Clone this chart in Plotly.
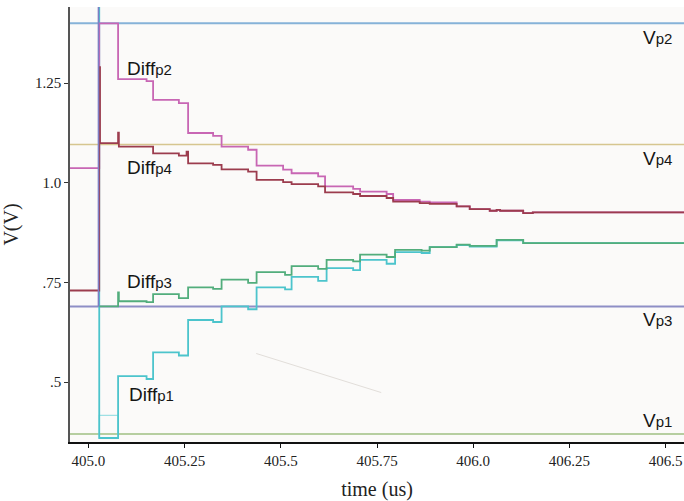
import plotly.graph_objects as go

# ---------------- data ----------------
t_switch = 405.028

# reference levels
vp_names = ["Vp2", "Vp4", "Vp3", "Vp1"]
vp_levels = [1.400, 1.096, 0.690, 0.370]

# Diff_p2 (pink)
p2_t = [404.95, 405.028, 405.077, 405.151, 405.168, 405.235, 405.259, 405.324, 405.346,
        405.415, 405.437, 405.506, 405.528, 405.597, 405.615, 405.688, 405.706, 405.775,
        405.792, 405.861, 405.887, 405.957, 405.991, 406.043, 406.061, 406.070, 406.130,
        406.155, 406.55]
p2_v = [1.037, 1.400, 1.260, 1.255, 1.208, 1.200, 1.125, 1.118, 1.091,
        1.083, 1.043, 1.033, 1.024, 1.016, 0.991, 0.985, 0.978, 0.972,
        0.957, 0.953, 0.951, 0.941, 0.934, 0.930, 0.932, 0.930, 0.924,
        0.926, 0.926]

# Diff_p4 (dark red)
p4_t = [404.95, 405.028, 405.030, 405.077, 405.079, 405.168, 405.235, 405.255, 405.259,
        405.324, 405.346, 405.415, 405.437, 405.506, 405.528, 405.597, 405.615, 405.688,
        405.706, 405.775, 405.792, 405.861, 405.887, 405.957, 405.991, 406.043, 406.061,
        406.070, 406.130, 406.155, 406.55]
p4_v = [0.730, 1.290, 1.0995, 1.126, 1.091, 1.074, 1.068, 1.078, 1.049,
        1.045, 1.034, 1.028, 1.0075, 1.002, 0.997, 0.991, 0.976, 0.972,
        0.967, 0.962, 0.953, 0.949, 0.947, 0.941, 0.934, 0.930, 0.932,
        0.930, 0.924, 0.926, 0.926]

# Diff_p3 (green)
p3_t = [405.028, 405.077, 405.079, 405.151, 405.168, 405.235, 405.259, 405.324, 405.346,
        405.415, 405.437, 405.511, 405.528, 405.597, 405.619, 405.688, 405.706, 405.775,
        405.797, 405.866, 405.887, 405.957, 405.991, 406.061, 406.130, 406.55]
p3_v = [0.690, 0.725, 0.703, 0.701, 0.721, 0.711, 0.738, 0.734, 0.757,
        0.749, 0.776, 0.769, 0.791, 0.784, 0.807, 0.803, 0.820, 0.814,
        0.832, 0.830, 0.839, 0.845, 0.842, 0.857, 0.849, 0.849]

# Diff_p1 (cyan)
p1_t = [405.028, 405.028, 405.077, 405.151, 405.168, 405.235, 405.259, 405.324, 405.346,
        405.415, 405.437, 405.511, 405.528, 405.597, 405.619, 405.688, 405.706, 405.775,
        405.797, 405.866, 405.887, 405.957, 405.991, 406.061, 406.130, 406.55]
p1_v = [1.46, 0.360, 0.515, 0.508, 0.575, 0.567, 0.656, 0.651, 0.690,
        0.683, 0.738, 0.733, 0.764, 0.754, 0.786, 0.781, 0.807, 0.797,
        0.826, 0.824, 0.839, 0.844, 0.840, 0.856, 0.849, 0.849]

# faint secondary cyan segment during switching
p1b_t = [405.028, 405.028, 405.077, 405.077]
p1b_v = [0.360, 0.417, 0.417, 0.370]

# switching edge (purple)
sw_v = [1.46, 0.690]

# faint diagonal artifact
art_t = [405.436, 405.761]
art_v = [0.572, 0.474]

x_ticks = [405.0, 405.25, 405.5, 405.75, 406.0, 406.25, 406.5]
x_ticktext = ["405.0", "405.25", "405.5", "405.75", "406.0", "406.25", "406.5"]
y_ticks = [0.5, 0.75, 1.0, 1.25]
y_ticktext = [".5", ".75", "1.0", "1.25"]

# ---------------- styles ----------------
vp_colors = ["#86b2d8", "#d6c690", "#8e8ec6", "#b6cea0"]
vp_widths = [2, 1.6, 2, 2]

fig = go.Figure()

x0, x1 = 404.952, 406.548
for name, lvl, col, w in zip(vp_names, vp_levels, vp_colors, vp_widths):
    fig.add_trace(go.Scatter(x=[x0, x1], y=[lvl, lvl], mode="lines",
                             line=dict(color=col, width=w), hoverinfo="skip"))

fig.add_trace(go.Scatter(x=art_t, y=art_v, mode="lines",
                         line=dict(color="#e2deda", width=1), hoverinfo="skip"))

fig.add_trace(go.Scatter(x=p1b_t, y=p1b_v, mode="lines",
                         line=dict(color="#9ee0e4", width=1.2), hoverinfo="skip"))
fig.add_trace(go.Scatter(x=p1_t, y=p1_v, mode="lines", line_shape="hv",
                         line=dict(color="#4cc4cc", width=1.8)))
fig.add_trace(go.Scatter(x=p3_t, y=p3_v, mode="lines", line_shape="hv",
                         line=dict(color="#52ad7c", width=1.8)))
fig.add_trace(go.Scatter(x=p2_t, y=p2_v, mode="lines", line_shape="hv",
                         line=dict(color="#c866b4", width=1.8)))
fig.add_trace(go.Scatter(x=p4_t, y=p4_v, mode="lines", line_shape="hv",
                         line=dict(color="#9c3c4e", width=1.8)))
fig.add_trace(go.Scatter(x=[t_switch - 0.002, t_switch - 0.002], y=sw_v, mode="lines",
                         line=dict(color="#7e7ec4", width=1.6), hoverinfo="skip"))

lab_font = dict(family="Liberation Sans, Arial, sans-serif", size=19, color="#151515")
SUB = "<span style='font-size:15px'>{}</span>"
labels = [
    (405.095, 1.288, "Diff" + SUB.format("p2")),
    (405.095, 1.038, "Diff" + SUB.format("p4")),
    (405.095, 0.752, "Diff" + SUB.format("p3")),
    (405.100, 0.470, "Diff" + SUB.format("p1")),
    (406.436, 1.364, "V" + SUB.format("p2")),
    (406.436, 1.062, "V" + SUB.format("p4")),
    (406.436, 0.656, "V" + SUB.format("p3")),
    (406.436, 0.405, "V" + SUB.format("p1")),
]
for x, y, txt in labels:
    fig.add_annotation(x=x, y=y, text=txt, showarrow=False, xanchor="left",
                       yanchor="middle", font=lab_font)

tick_font = dict(family="Liberation Serif, Times New Roman, serif", size=15, color="#222")
title_font = dict(family="Liberation Serif, Times New Roman, serif", size=20, color="#222")

fig.update_layout(
    width=684, height=501,
    margin=dict(l=70, r=0, t=7, b=59),
    paper_bgcolor="white",
    plot_bgcolor="#fbfaf9",
    showlegend=False,
    xaxis=dict(range=[x0, x1], tickvals=x_ticks, ticktext=x_ticktext,
               showgrid=False, zeroline=False, showline=True, linecolor="#111",
               linewidth=1.5, ticks="outside", ticklen=4, tickcolor="#111",
               tickfont=tick_font, title=dict(text="time (us)", font=title_font, standoff=14)),
    yaxis=dict(range=[0.350, 1.441], tickvals=y_ticks, ticktext=y_ticktext,
               showgrid=False, zeroline=False, showline=True, linecolor="#555",
               linewidth=1.5, ticks="outside", ticklen=4, tickcolor="#333",
               tickfont=tick_font, title=dict(text="V(V)", font=title_font, standoff=12)),
)

fig.write_html("out.html", config={"displayModeBar": False},
               post_script="document.body.style.margin='0px';")
